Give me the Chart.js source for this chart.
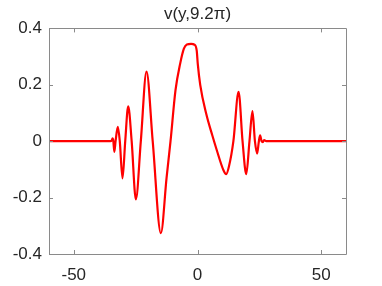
<!DOCTYPE html>
<html>
<head>
<meta charset="utf-8">
<script src="https://cdn.jsdelivr.net/npm/chart.js@4/dist/chart.umd.min.js"></script>
<style>
html,body{margin:0;padding:0;background:#fff;}
#wrap{width:382px;height:286px;}
</style>
</head>
<body>
<div id="wrap"><canvas id="c" width="382" height="286"></canvas></div>
<script>
const titleText = 'v(y,9.2\u03C0)';
const yPositions = [-60, -35.2, -34.7, -34.3, -34.0, -33.6, -33.1, -32.2, -31.4, -30.3, -29.2, -28.0, -26.6, -24.9, -22.9, -20.6, -18.1, -14.8, -12.5, -10.9, -8.9, -7.0, -5.5, -4.3, -2.6, -1.2, -0.3, 0.1, 1.1, 3.5, 6.0, 7.8, 10.5, 11.6, 12.7, 14.5, 16.6, 18.2, 19.7, 21.0, 22.2, 23.2, 24.1, 24.8, 25.3, 25.9, 26.4, 26.9, 27.8, 60];
const vValues = [0, 0, 0.002, 0.01, 0, -0.038, 0, 0.051, 0, -0.132, 0, 0.124, 0, -0.206, 0, 0.247, 0, -0.326, -0.13, 0, 0.18, 0.275, 0.328, 0.343, 0.345, 0.342, 0.32, 0.275, 0.2, 0.098, 0.02, -0.032, -0.103, -0.117, -0.09, 0, 0.175, 0, -0.117, 0, 0.107, 0, -0.044, 0, 0.021, 0, -0.003, 0.004, 0, 0];
const xTicks = [-50, 0, 50];
const yTicks = [-0.4, -0.2, 0, 0.2, 0.4];

const points = yPositions.map((x, i) => ({x: x, y: vValues[i]}));

const boxPlugin = {
  id: 'boxTicks',
  afterDraw(chart) {
    const ctx = chart.ctx, a = chart.chartArea;
    const xs = chart.scales.x, ys = chart.scales.y;
    ctx.save();
    ctx.strokeStyle = '#8a8a8a';
    ctx.lineWidth = 1;
    ctx.beginPath();
    ctx.rect(Math.round(a.left) + 0.5, Math.round(a.top) + 0.5, Math.round(a.right - a.left), Math.round(a.bottom - a.top));
    ctx.stroke();
    const L = 4;
    ctx.beginPath();
    xTicks.forEach(v => {
      const p = Math.round(xs.getPixelForValue(v)) + 0.5;
      ctx.moveTo(p, a.bottom); ctx.lineTo(p, a.bottom - L);
      ctx.moveTo(p, a.top); ctx.lineTo(p, a.top + L);
    });
    yTicks.forEach(v => {
      const p = Math.round(ys.getPixelForValue(v)) + 0.5;
      ctx.moveTo(a.left, p); ctx.lineTo(a.left + L, p);
      ctx.moveTo(a.right, p); ctx.lineTo(a.right - L, p);
    });
    ctx.stroke();
    ctx.restore();
  }
};

const fontFam = 'Liberation Sans, Arial, sans-serif';

new Chart(document.getElementById('c'), {
  type: 'line',
  data: {
    datasets: [{
      data: points,
      borderColor: '#ff0000',
      borderWidth: 2.2,
      pointRadius: 0,
      fill: false,
      cubicInterpolationMode: 'monotone'
    }]
  },
  options: {
    responsive: false,
    animation: false,
    layout: {padding: {left: 0, right: 36, top: 0, bottom: 0}},
    plugins: {
      legend: {display: false},
      tooltip: {enabled: false},
      title: {
        display: true,
        fullSize: false,
        text: titleText,
        color: '#262626',
        font: {family: fontFam, size: 17, weight: 'normal'},
        padding: {top: 4, bottom: 4}
      }
    },
    scales: {
      x: {
        type: 'linear',
        min: -60, max: 60,
        afterBuildTicks: s => { s.ticks = xTicks.map(v => ({value: v})); },
        afterFit: s => { s.height = 32; },
        grid: {display: false, drawTicks: false},
        border: {display: false},
        ticks: {
          color: '#262626',
          padding: 11,
          maxRotation: 0,
          font: {family: fontFam, size: 17},
          callback: v => String(v)
        }
      },
      y: {
        type: 'linear',
        min: -0.4, max: 0.4,
        afterBuildTicks: s => { s.ticks = yTicks.map(v => ({value: v})); },
        afterFit: s => { s.width = 49; },
        grid: {display: false, drawTicks: false},
        border: {display: false},
        ticks: {
          color: '#262626',
          padding: 7,
          font: {family: fontFam, size: 17},
          callback: v => (Math.abs(v) < 1e-9 ? '0' : v.toFixed(1))
        }
      }
    }
  },
  plugins: [boxPlugin]
});
</script>
</body>
</html>
